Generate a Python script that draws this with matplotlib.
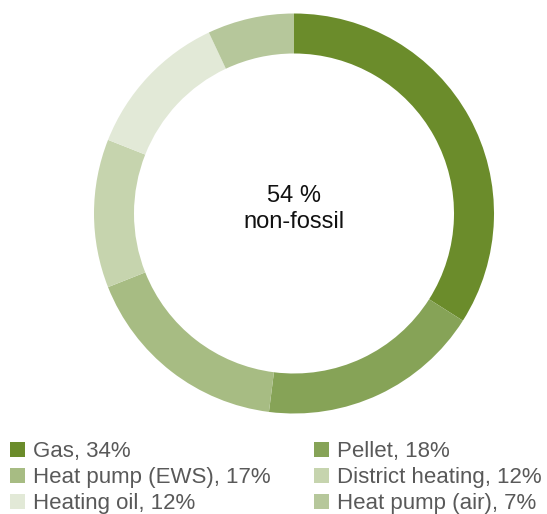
import matplotlib
matplotlib.use("Agg")
import matplotlib.pyplot as plt
from matplotlib.patches import Rectangle

plt.rcParams['font.family'] = ['Liberation Sans', 'DejaVu Sans']

labels = ["Gas", "Pellet", "Heat pump (EWS)", "District heating", "Heating oil", "Heat pump (air)"]
shares = [34, 18, 17, 12, 12, 7]
colors = ["#6b8c2b", "#86a357", "#a7bc83", "#c6d4ae", "#e2e9d7", "#b6c79b"]
non_fossil = 54

W, H = 547, 514
fig = plt.figure(figsize=(W / 100, H / 100), dpi=100)
ax = fig.add_axes([94 / W, 1 - 413.5 / H, 400 / W, 400 / H])
ax.pie(shares, colors=colors, startangle=90, counterclock=False,
       radius=1.0, wedgeprops=dict(width=0.2, linewidth=0))
ax.set_xlim(-1, 1)
ax.set_ylim(-1, 1)
ax.set_aspect('equal')
ax.axis('off')
ax.text(0, 0.0575, f"{non_fossil} %", ha='center', va='baseline', fontsize=17, color='#111111')
ax.text(0, -0.0725, "non-fossil", ha='center', va='baseline', fontsize=17, color='#111111')

# two-column legend, filled row by row
col_x = [10, 314]
row_baseline = [457, 483, 509]
box = 15
for i, (lab, val, c) in enumerate(zip(labels, shares, colors)):
    row, col = divmod(i, 2)
    x = col_x[col]
    yb = row_baseline[row]
    fig.patches.append(Rectangle((x / W, 1 - yb / H), box / W, box / H,
                                 transform=fig.transFigure, facecolor=c,
                                 edgecolor='none'))
    fig.text((x + 23) / W, 1 - yb / H, f"{lab}, {val}%", ha='left', va='baseline',
             fontsize=16, color='#595959')

fig.savefig("out.png", dpi=100)
